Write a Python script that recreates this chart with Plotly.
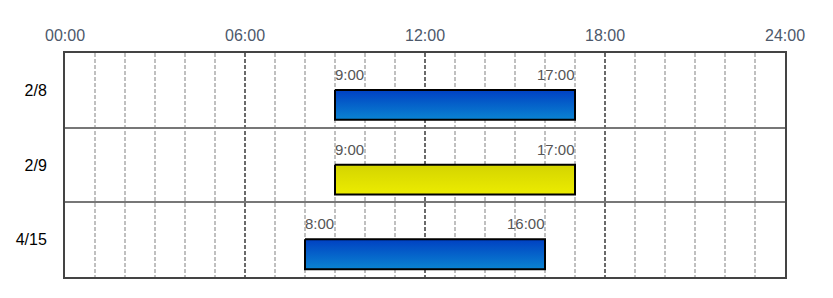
import plotly.graph_objects as go

days = ["2/8", "2/9", "4/15"]
start_hours = [9, 9, 8]
end_hours = [17, 17, 16]
start_labels = ["9:00", "9:00", "8:00"]
end_labels = ["17:00", "17:00", "16:00"]
tick_hours = [0, 6, 12, 18, 24]
tick_labels = ["00:00", "06:00", "12:00", "18:00", "24:00"]

palette = {
    "blue": [[0, "#0a84d2"], [1, "#0040c2"]],
    "yellow": [[0, "#ecec00"], [1, "#d4d400"]],
}
bar_styles = ["blue", "yellow", "blue"]

BAR_TOP = 0.495
BAR_BOTTOM = 0.895

fig = go.Figure()
annotations = []
label_font = dict(family="Liberation Sans, Arial", size=15, color="#555555")
for i, day in enumerate(days):
    x0, x1 = start_hours[i], end_hours[i]
    y0, y1 = i + BAR_TOP, i + BAR_BOTTOM
    fig.add_trace(go.Scatter(
        x=[x0, x1, x1, x0, x0],
        y=[y0, y0, y1, y1, y0],
        mode="lines",
        fill="toself",
        fillgradient=dict(type="vertical", colorscale=palette[bar_styles[i]]),
        line=dict(color="#000000", width=2),
        hoverinfo="skip",
        showlegend=False,
    ))
    annotations.append(dict(x=x0, y=y0, xref="x", yref="y", text=start_labels[i],
                            showarrow=False, xanchor="left", yanchor="bottom",
                            yshift=5, xshift=-2, font=label_font))
    annotations.append(dict(x=x1, y=y0, xref="x", yref="y", text=end_labels[i],
                            showarrow=False, xanchor="right", yanchor="bottom",
                            yshift=5, xshift=2, font=label_font))

fig.update_layout(
    width=833, height=298,
    margin=dict(l=65, r=48, t=53, b=21),
    paper_bgcolor="white", plot_bgcolor="white",
    annotations=annotations,
    font=dict(family="Liberation Sans, Arial"),
)
fig.update_xaxes(
    range=[0, 24], side="top",
    tickmode="array", tickvals=tick_hours, ticktext=tick_labels,
    tickfont=dict(size=16, color="#4d596b"),
    ticks="", ticklabelstandoff=4,
    showgrid=True, gridcolor="#6a6a6a", griddash="4px,2px", gridwidth=2,
    minor=dict(dtick=1, tick0=0, showgrid=True, gridcolor="#c0c0c0", griddash="4px,2px", gridwidth=2),
    showline=True, linecolor="#444444", linewidth=2, mirror=True,
    zeroline=False,
)
fig.update_yaxes(
    range=[3, 0],
    tickmode="array", tickvals=[i + 0.5 for i in range(len(days))], ticktext=days,
    tickfont=dict(size=16, color="#000000"),
    ticks="", ticklabelstandoff=13,
    showgrid=False,
    minor=dict(tickmode="array", tickvals=[1, 2], showgrid=True, gridcolor="#777777", gridwidth=2),
    showline=True, linecolor="#444444", linewidth=2, mirror=True,
    zeroline=False,
)

fig.write_html("out.html")
